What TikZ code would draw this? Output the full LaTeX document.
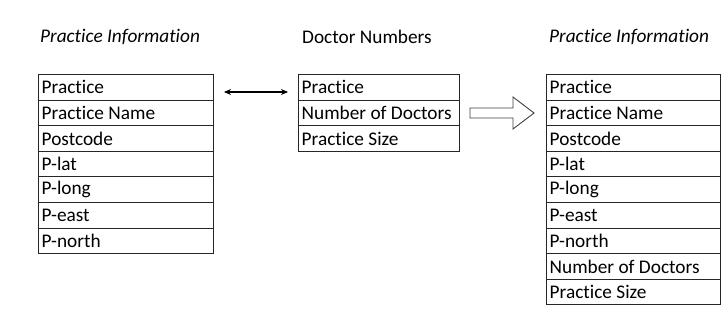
\documentclass[tikz,border=0pt]{standalone}
\usepackage{fontspec}
\setmainfont{Carlito}[Ligatures=NoCommon]
\usetikzlibrary{arrows.meta}
\begin{document}
\begin{tikzpicture}[x=1pt,y=-1pt,
  every node/.style={inner sep=0pt,font=\fontsize{19.3}{22}\selectfont},
  cell/.style={draw=black!85,line width=0.9pt,minimum height=25.6pt,anchor=north west},
  title/.style={anchor=west},
  lbl/.style={anchor=west}]
\useasboundingbox (0,0) rectangle (722,322);

% titles
\node[title] (t1) at (40,37) {\itshape Practice Information};
\node[title] (t2) at (302,37) {Doctor Numbers};
\node[title] (t3) at (549,37) {\itshape Practice Information};

% left table
\foreach \txt [count=\i from 0] in {Practice,Practice Name,Postcode,P-lat,P-long,P-east,P-north}{
  \node[cell,minimum width=175.5pt] (l\i) at (37.5,74+25.6*\i) {};
  \node[lbl] at ([xshift=4pt]l\i.west) {\txt};
}
% middle table
\foreach \txt [count=\i from 0] in {Practice,Number of Doctors,Practice Size}{
  \node[cell,minimum width=161.5pt] (m\i) at (297.5,74+25.6*\i) {};
  \node[lbl] at ([xshift=4pt]m\i.west) {\txt};
}
% right table
\foreach \txt [count=\i from 0] in {Practice,Practice Name,Postcode,P-lat,P-long,P-east,P-north,Number of Doctors,Practice Size}{
  \node[cell,minimum width=174pt] (r\i) at (545.5,74+25.6*\i) {};
  \node[lbl] at ([xshift=4pt]r\i.west) {\txt};
}

% two-way link between the first two tables
\coordinate (a1) at (224,92);
\coordinate (a2) at (288,92);
\draw[line width=1.1pt,{Stealth[length=7pt,width=6pt]}-{Stealth[length=7pt,width=6pt]}] (a1) -- (a2);

% hollow block arrow towards the merged table
\draw[draw=black!75,line width=0.9pt,fill=white,line join=miter]
  (470,108) -- (513,108) -- (513,97) -- (534,113) -- (513,129) -- (513,118) -- (470,118) -- cycle;
\end{tikzpicture}
\end{document}
